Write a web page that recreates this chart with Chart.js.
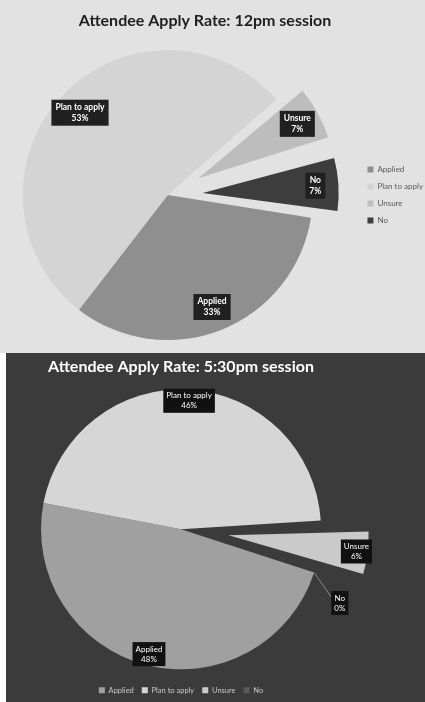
<!DOCTYPE html>
<html>
<head>
<meta charset="utf-8">
<script src="https://cdn.jsdelivr.net/npm/chart.js@4.4.1/dist/chart.umd.min.js"></script>
<style>
  html, body { margin: 0; padding: 0; background: #fff; }
  body { width: 425px; height: 702px; position: relative; overflow: hidden; }
  #top { position: absolute; left: 0; top: 0; width: 425px; height: 353px; overflow: hidden; background: #e2e2e2; }
  #top canvas { position: absolute; left: -23px; top: 0; }
  #bottom { position: absolute; left: 6px; top: 353px; width: 419px; height: 349px; overflow: hidden; background: #3b3b3b; }
</style>
</head>
<body>
<div id="top"><canvas id="noonChart" width="456" height="353"></canvas></div>
<div id="bottom"><canvas id="eveningChart" width="419" height="349"></canvas></div>
<script>
// answers, same order in both sessions
const categories = ["Applied", "Plan to apply", "Unsure", "No"];
const noonValues = [33, 53, 7, 7];       // 12pm session, %
const eveningValues = [48, 46, 6, 0];    // 5:30pm session, %

// how far each slice is pulled out (px)
const noonExplode = [0, 0, 35, 35];
const eveningExplode = [0, 0, 48, 0];

const noonColors = ["#8f8f8f", "#d4d4d4", "#bdbdbd", "#3d3d3d"];
const eveningColors = ["#a0a0a0", "#d6d6d6", "#cacaca", "#5a5a5a"];

Chart.defaults.font.family = "Lato";

// boxed "name / xx%" labels on each slice
const sliceLabels = {
  id: 'sliceLabels',
  beforeDatasetDraw(chart, args, opts) {
    // chart.js makes thin exploded slices a bit bigger, set them back to the wanted radius
    const R = args.meta.controller.outerRadius;
    args.meta.data.forEach(arc => {
      const push = (arc.options.offset || 0) / 4;
      if (!push) return;
      const circ = arc.endAngle - arc.startAngle;
      arc.outerRadius = R - opts.shrink - push * (1 - Math.sin(Math.min(Math.PI, circ)));
    });
  },
  afterDatasetsDraw(chart, args, opts) {
    const ctx = chart.ctx;
    const meta = chart.getDatasetMeta(0);
    const values = chart.data.datasets[0].data;
    const R = meta.controller.outerRadius;
    ctx.save();
    ctx.font = opts.font;
    meta.data.forEach((arc, i) => {
      const outside = values[i] === 0;
      // empty slice: label sits outside, nudged down a little so it clears its neighbour
      const mid = (arc.startAngle + arc.endAngle) / 2 + (outside ? 0.12 : 0);
      const push = (arc.options.offset || 0) / 4;
      const r = push ? R - opts.shrink : R;
      const dist = push + r * (outside ? 1.25 : opts.at);
      const px = arc.x + Math.cos(mid) * dist;
      const py = arc.y + Math.sin(mid) * dist;
      const lines = [chart.data.labels[i], values[i] + '%'];
      const w = Math.max(...lines.map(t => ctx.measureText(t).width)) + opts.padX * 2;
      const h = lines.length * opts.lineHeight + 4;
      if (outside) {
        const a0 = arc.startAngle;
        ctx.strokeStyle = opts.lineColor;
        ctx.lineWidth = 0.8;
        ctx.beginPath();
        ctx.moveTo(arc.x + Math.cos(a0) * R, arc.y + Math.sin(a0) * R);
        ctx.lineTo(px - w / 2, py - h / 4);
        ctx.stroke();
      }
      ctx.fillStyle = opts.boxColor;
      ctx.fillRect(px - w / 2, py - h / 2, w, h);
      ctx.fillStyle = opts.color;
      ctx.textAlign = 'center';
      ctx.textBaseline = 'middle';
      lines.forEach((t, k) => ctx.fillText(t, px, py - h / 2 + 2 + opts.lineHeight * (k + 0.5)));
    });
    ctx.restore();
  }
};

const noonChart = new Chart(document.getElementById('noonChart'), {
  type: 'pie',
  data: {
    labels: categories,
    datasets: [{
      data: noonValues,
      backgroundColor: noonColors,
      borderWidth: 0,
      offset: noonExplode.map(p => p * 4)
    }]
  },
  options: {
    responsive: false,
    animation: false,
    rotation: 99,
    radius: 145,
    layout: { padding: 0 },
    plugins: {
      tooltip: { enabled: false },
      title: {
        display: true,
        text: 'Attendee Apply Rate: 12pm session',
        color: '#1e1e1e',
        font: { size: 16, weight: 'bold' },
        padding: { top: 11, bottom: 7 }
      },
      legend: {
        position: 'right',
        fullSize: false,
        labels: { boxWidth: 6, boxHeight: 6, padding: 9, color: '#595959', font: { size: 8 } }
      },
      sliceLabels: { at: 0.83, shrink: 9, font: 'bold 8.5px Lato', lineHeight: 11, padX: 4, boxColor: '#202020', color: '#ffffff', lineColor: '#888' }
    }
  },
  plugins: [sliceLabels]
});

const eveningChart = new Chart(document.getElementById('eveningChart'), {
  type: 'pie',
  data: {
    labels: categories,
    datasets: [{
      data: eveningValues,
      backgroundColor: eveningColors,
      borderWidth: 0,
      offset: eveningExplode.map(p => p * 4)
    }]
  },
  options: {
    responsive: false,
    animation: false,
    rotation: 108,
    radius: 140,
    layout: { padding: { left: 0, right: 69, top: 0, bottom: -2 } },
    plugins: {
      tooltip: { enabled: false },
      title: {
        display: true,
        text: 'Attendee Apply Rate: 5:30pm session',
        color: '#ffffff',
        font: { size: 16, weight: 'bold' },
        padding: { top: 4, bottom: 4 }
      },
      legend: {
        position: 'bottom',
        labels: { boxWidth: 6, boxHeight: 6, padding: 8, color: '#c8c8c8', font: { size: 7.5 } }
      },
      sliceLabels: { at: 0.92, shrink: 0, font: '8px Lato', lineHeight: 10, padX: 3, boxColor: '#111111', color: '#ffffff', lineColor: '#9a9a9a' }
    }
  },
  plugins: [sliceLabels]
});
</script>
</body>
</html>
